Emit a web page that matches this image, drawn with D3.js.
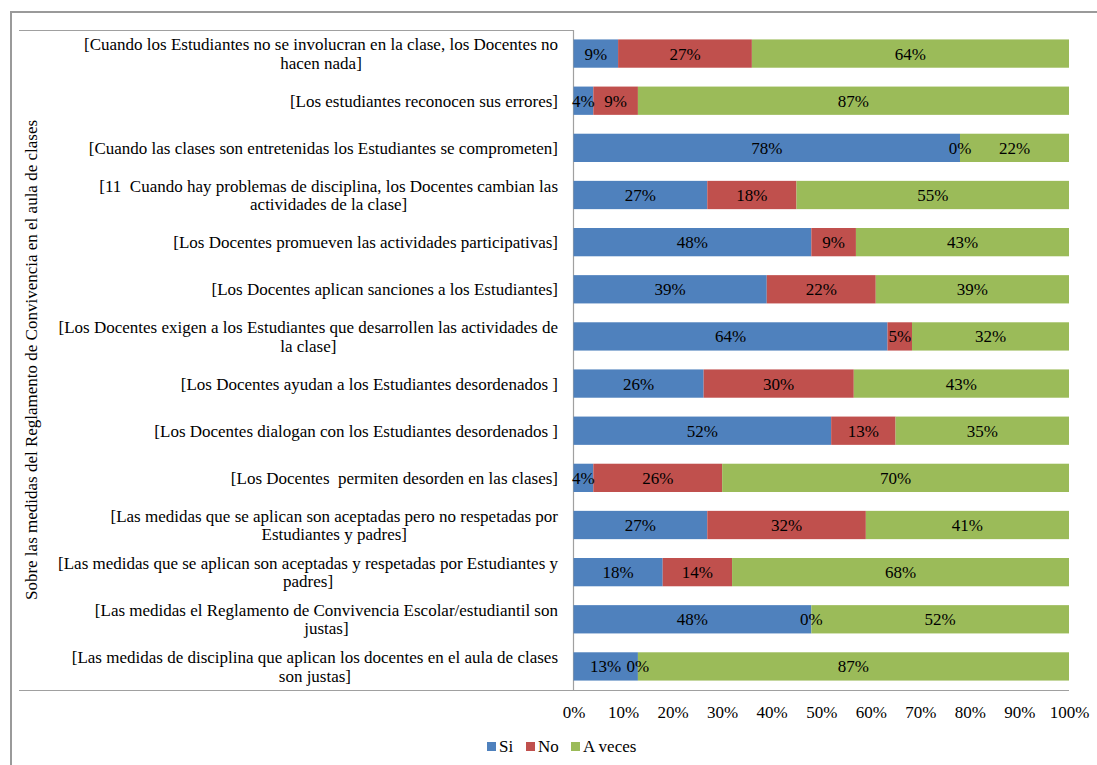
<!DOCTYPE html>
<html>
<head>
<meta charset="utf-8">
<script src="https://cdn.jsdelivr.net/npm/d3@7"></script>
<style>
  html, body { margin: 0; padding: 0; background: #fff; }
  svg { display: block; font-family: "Liberation Serif", "Times New Roman", serif; }
  text { white-space: pre; }
</style>
</head>
<body>
<svg id="chart" width="1097" height="765"></svg>
<script>
const categories = [
  "[Cuando los Estudiantes no se involucran en la clase, los Docentes no\nhacen nada]",
  "[Los estudiantes reconocen sus errores]",
  "[Cuando las clases son entretenidas los Estudiantes se comprometen]",
  "[11  Cuando hay problemas de disciplina, los Docentes cambian las\nactividades de la clase]",
  "[Los Docentes promueven las actividades participativas]",
  "[Los Docentes aplican sanciones a los Estudiantes]",
  "[Los Docentes exigen a los Estudiantes que desarrollen las actividades de\nla clase]",
  "[Los Docentes ayudan a los Estudiantes desordenados ]",
  "[Los Docentes dialogan con los Estudiantes desordenados ]",
  "[Los Docentes  permiten desorden en las clases]",
  "[Las medidas que se aplican son aceptadas pero no respetadas por\nEstudiantes y padres]",
  "[Las medidas que se aplican son aceptadas y respetadas por Estudiantes y\npadres]",
  "[Las medidas el Reglamento de Convivencia Escolar/estudiantil son\njustas]",
  "[Las medidas de disciplina que aplican los docentes en el aula de clases\nson justas]"
];
const seriesNames = ["Si", "No", "A veces"];
const si     = [9, 4, 78, 27, 48, 39, 64, 26, 52, 4, 27, 18, 48, 13];
const no     = [27, 9, 0, 18, 9, 22, 5, 30, 13, 26, 32, 14, 0, 0];
const aveces = [64, 87, 22, 55, 43, 39, 32, 43, 35, 70, 41, 68, 52, 87];
const xTicks = [0, 10, 20, 30, 40, 50, 60, 70, 80, 90, 100];
const colors = ["#4F81BD", "#C0504D", "#9BBB59"];
const yTitle = "Sobre las medidas del Reglamento de Convivencia en el aula de clases";

(function () {
const svg = d3.select("#chart");
const pLeft = 573.5, pRight = 1069, pTop = 30, pBottom = 690;
const fs = 17;
const ff = "Liberation Serif";

const x = d3.scaleLinear().domain([0, 100]).range([pLeft, pRight]);
const y = d3.scaleBand().domain(d3.range(categories.length)).range([pTop, pBottom])
  .paddingInner(0.4).paddingOuter(0.2);
const color = d3.scaleOrdinal().domain(seriesNames).range(colors);

const rows = categories.map((c, i) => {
  const vals = [si[i], no[i], aveces[i]];
  const tot = d3.sum(vals);
  let acc = 0;
  return vals.map((v, k) => {
    const s = acc / tot * 100; acc += v;
    return { i, k, v, x0: s, x1: acc / tot * 100 };
  });
});

// outer frame (cut off at right/bottom)
svg.append("path")
  .attr("d", `M11,770 L11,12 L1100,12`)
  .attr("fill", "none").attr("stroke", "#9a9a9a").attr("stroke-width", 2);

const lineCol = "#a0a0a0";
svg.append("line").attr("x1", 19).attr("x2", pLeft).attr("y1", pTop + 0.5).attr("y2", pTop + 0.5)
  .attr("stroke", lineCol).attr("stroke-width", 1.2);
svg.append("line").attr("x1", pLeft).attr("x2", pLeft).attr("y1", pTop).attr("y2", pBottom)
  .attr("stroke", lineCol).attr("stroke-width", 1.2);

// bars
const g = svg.append("g");
rows.forEach(r => {
  g.selectAll(null).data(r).enter().append("rect")
    .attr("x", d => x(d.x0))
    .attr("y", d => y(d.i))
    .attr("width", d => x(d.x1) - x(d.x0))
    .attr("height", y.bandwidth())
    .attr("fill", d => colors[d.k]);
});
rows.forEach(r => {
  g.selectAll(null).data(r).enter().append("text")
    .attr("x", d => (x(d.x0) + x(d.x1)) / 2)
    .attr("y", d => y(d.i) + y.bandwidth() / 2)
    .attr("dy", "0.35em")
    .attr("text-anchor", "middle")
    .attr("font-size", fs)
    .attr("font-family", ff)
    .attr("fill", "#000")
    .text(d => d.v + "%");
});

// x axis
svg.append("line").attr("x1", 19).attr("x2", pRight).attr("y1", pBottom + 0.5).attr("y2", pBottom + 0.5)
  .attr("stroke", lineCol).attr("stroke-width", 1.2);
const xAxis = d3.axisBottom(x).tickValues(xTicks).tickSize(0).tickPadding(16)
  .tickFormat(d => d + "%");
const ax = svg.append("g").attr("transform", `translate(0,${pBottom})`).call(xAxis);
ax.select(".domain").remove();
ax.selectAll("text").attr("font-size", fs).attr("font-family", ff).attr("fill", "#000");

// category labels
const labelRight = 558;
const lineH = 18.5;
const lg = svg.append("g").attr("font-size", fs).attr("font-family", ff).attr("fill", "#000");
categories.forEach((c, i) => {
  const lines = c.split("\n");
  const cy = y(i) + y.bandwidth() / 2;
  const tmp = lg.append("text");
  const widths = lines.map(l => { tmp.text(l); return tmp.node().getComputedTextLength(); });
  tmp.remove();
  const maxW = d3.max(widths);
  const cx = labelRight - maxW / 2;
  lines.forEach((l, j) => {
    lg.append("text")
      .attr("x", cx)
      .attr("y", cy + (j - (lines.length - 1) / 2) * lineH)
      .attr("dy", "0.35em")
      .attr("text-anchor", "middle")
      .text(l);
  });
});

// y title
svg.append("text")
  .attr("transform", `translate(31,${(pTop + pBottom) / 2}) rotate(-90)`)
  .attr("text-anchor", "middle")
  .attr("dy", "0.35em")
  .attr("font-size", fs)
  .attr("font-family", ff)
  .attr("fill", "#000")
  .text(yTitle);

// legend
const legendX = [487, 526, 571];
const leg = svg.append("g");
seriesNames.forEach((s, k) => {
  leg.append("rect").attr("x", legendX[k]).attr("y", 742).attr("width", 9).attr("height", 9)
    .attr("fill", color(s));
  leg.append("text").attr("x", legendX[k] + 12).attr("y", 746.5).attr("dy", "0.35em")
    .attr("font-size", fs).attr("font-family", ff).attr("fill", "#000").text(s);
});
})();
</script>
</body>
</html>
